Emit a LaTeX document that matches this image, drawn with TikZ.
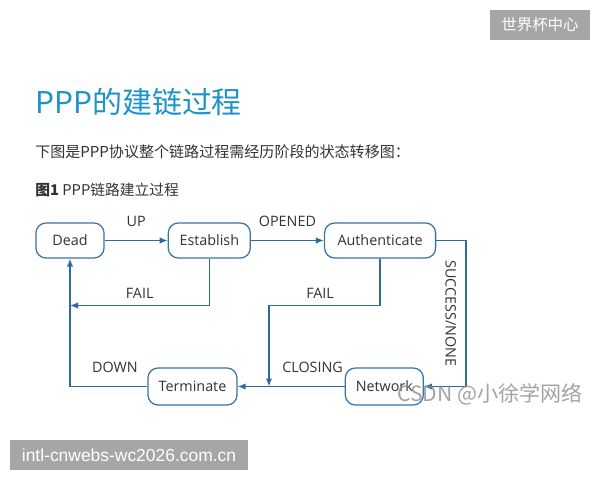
\documentclass[tikz,border=0pt]{standalone}
\usepackage{fontspec}
\setmainfont{Open Sans}
\newfontfamily\cjk{Noto Sans CJK SC}
\newfontfamily\sitefont{Liberation Sans}
\usepackage{tikz}
\usetikzlibrary{arrows.meta, positioning, calc}
\definecolor{pppTitle}{HTML}{1E93C9}
\definecolor{pppBlue}{HTML}{2D6A9F}
\definecolor{pppEdge}{HTML}{3A73A8}
\definecolor{pppText}{HTML}{333333}
\definecolor{pppGray}{HTML}{A6A6A6}
\tikzset{
  pppstate/.style={rectangle, rounded corners=0.25cm, draw=pppEdge, line width=0.9pt,
                   fill=white, text=pppText, font=\fontsize{10.2pt}{12pt}\selectfont,
                   minimum height=0.875cm, inner sep=0pt},
  pppflow/.style={-{Latex[length=2mm, width=1.6mm]}, line width=1pt, color=pppBlue},
}
\begin{document}
\begin{tikzpicture}[x=0.025cm, y=-0.025cm, node distance=0.9cm and 1.575cm,
  lbl/.style={font=\fontsize{10.2pt}{12pt}\selectfont, text=pppText, inner sep=0pt},
  wmbox/.style={fill=pppGray, text=white, minimum height=0.75cm, inner sep=0pt}]
  \useasboundingbox (0,0) rectangle (600,480);
  % page texts
  \node[anchor=west, inner sep=0pt, text=pppTitle, font=\cjk\fontsize{21.3pt}{24pt}\selectfont] (title) at (35,102.5) {PPP的建链过程};
  \node[anchor=west, inner sep=0pt, text=pppText, font=\cjk\fontsize{10.7pt}{13pt}\selectfont] (intro) at (35,152) {下图是PPP协议整个链路过程需经历阶段的状态转移图：};
  \node[anchor=west, inner sep=0pt, text=pppText, font=\cjk\fontsize{10.5pt}{13pt}\selectfont] (caption) at (35,190) {{\bfseries 图1} PPP链路建立过程};
  % states
  \node[pppstate, minimum width=1.7cm] (dead) at (70,240.5) {Dead};
  \node[pppstate, minimum width=2.05cm, right=1.575cm of dead] (establish) {Establish};
  \node[pppstate, minimum width=2.775cm, right=1.825cm of establish] (auth) {Authenticate};
  \node[pppstate, minimum width=2.225cm, minimum height=0.925cm] (terminate) at (192.5,386.5) {Terminate};
  \node[pppstate, minimum width=1.95cm, minimum height=0.925cm, right=2.675cm of terminate] (network) {Network};
  \coordinate (deadfail) at (70,305.5);
  \coordinate (authfail) at (269,305.5);
  \coordinate (succ) at (466,313.5);
  % transitions
  \draw[pppflow] (dead) -- node[lbl, above=0.34cm] {UP} (establish);
  \draw[pppflow] (establish) -- node[lbl, above=0.34cm] {OPENED} (auth);
  \draw[pppflow] (establish.south) |- node[lbl, above=0.165cm, pos=0.75] {FAIL} (deadfail);
  \draw[pppflow] (auth.south) |- node[lbl, above=0.165cm, pos=0.77] {FAIL} (authfail) -- (authfail |- terminate.east);
  \draw[pppflow] (auth.east) -| node[lbl, rotate=-90, anchor=north, outer sep=0.25cm, pos=1] {SUCCESS/NONE} (succ) |- (network.east);
  \draw[pppflow] (network) -- node[lbl, above=0.34cm, pos=0.3] {CLOSING} (terminate);
  \draw[pppflow] (terminate.west) -| node[lbl, above=0.34cm, pos=0.21] {DOWN} (dead.south);
  % marks
  \node[wmbox, minimum width=2.5cm, font=\cjk\fontsize{11pt}{13pt}\selectfont] (tag) at (540,25) {世界杯中心};
  \node[wmbox, minimum width=5.95cm, font=\sitefont\fontsize{12.4pt}{14pt}\selectfont] (site) at (129,455) {intl-cnwebs-wc2026.com.cn};
  \node[text=black!45, text opacity=0.8, inner sep=0pt, font=\cjk\fontsize{15pt}{17pt}\selectfont] (csdn) at (490,394) {CSDN @小徐学网络};
\end{tikzpicture}
\end{document}
